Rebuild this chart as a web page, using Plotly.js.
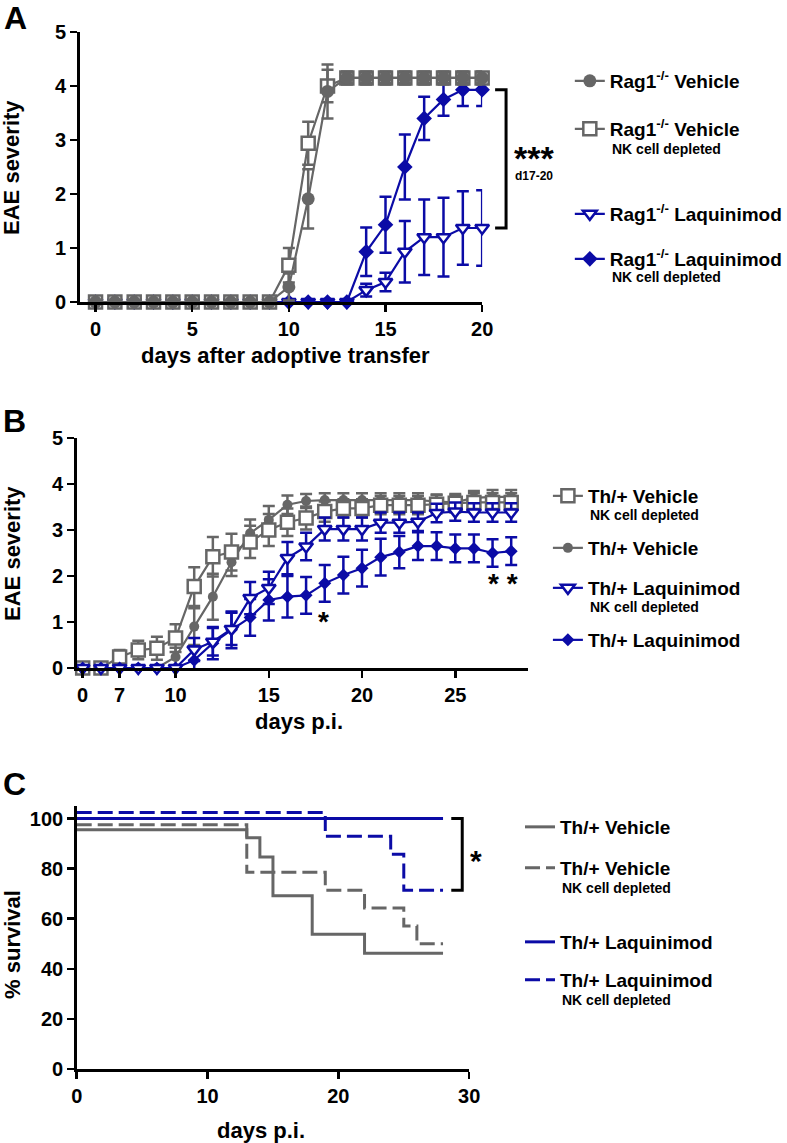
<!DOCTYPE html>
<html>
<head>
<meta charset="utf-8">
<script src="https://cdn.plot.ly/plotly-3.0.1.min.js"></script>
<style>html,body{margin:0;padding:0;background:#fff;}#chart{width:787px;height:1143px;}</style>
</head>
<body>
<div id="chart"></div>
<script>
// ---------- Panel A data: Rag1-/- adoptive transfer ----------
const daysA = [0,1,2,3,4,5,6,7,8,9,10,11,12,13,14,15,16,17,18,19,20];
const ragVehicle      = [0,0,0,0,0,0,0,0,0,0,0.28,1.91,3.9,4.15,4.15,4.15,4.15,4.15,4.15,4.15,4.15];
const ragVehicleErr   = [0,0,0,0,0,0,0,0,0,0,0.25,0.55,0.5,0.1,0.1,0.1,0.1,0.1,0.1,0.1,0.1];
const ragVehicleNK    = [0,0,0,0,0,0,0,0,0,0,0.68,2.94,4.0,4.15,4.15,4.15,4.15,4.15,4.15,4.15,4.15];
const ragVehicleNKErr = [0,0,0,0,0,0,0,0,0,0,0.32,0.4,0.3,0.12,0.12,0.12,0.12,0.12,0.12,0.12,0.12];
const ragLaq          = [0,0,0,0,0,0,0,0,0,0,0,0,0,0,0.22,0.37,0.93,1.2,1.2,1.37,1.37];
const ragLaqErr       = [0,0,0,0,0,0,0,0,0,0,0,0,0,0,0.12,0.17,0.57,0.7,0.73,0.68,0.7];
const ragLaqNK        = [0,0,0,0,0,0,0,0,0,0,0,0,0,0,0.93,1.43,2.5,3.4,3.75,3.93,3.93];
const ragLaqNKErr     = [0,0,0,0,0,0,0,0,0,0,0,0,0,0,0.45,0.52,0.6,0.4,0.3,0.3,0.3];
const ticksA = [0,5,10,15,20];

// ---------- Panel B data: Th/+ mice ----------
const daysB = [0,6,7,8,9,10,11,12,13,14,15,16,17,18,19,20,21,22,23,24,25,26,27,28];
const thVehicleNK    = [0,0,0.24,0.39,0.43,0.65,1.77,2.42,2.52,2.74,3.0,3.17,3.26,3.4,3.47,3.47,3.54,3.54,3.54,3.56,3.58,3.6,3.6,3.6];
const thVehicleNKErr = [0,0,0.15,0.2,0.25,0.3,0.42,0.43,0.4,0.35,0.35,0.3,0.25,0.22,0.2,0.2,0.2,0.2,0.2,0.2,0.2,0.2,0.2,0.2];
const thVehicle      = [0,0,0,0,0,0.24,0.9,1.55,2.3,2.93,3.22,3.55,3.63,3.65,3.65,3.65,3.65,3.65,3.65,3.62,3.6,3.7,3.72,3.72];
const thVehicleErr   = [0,0,0,0,0,0.2,0.4,0.5,0.3,0.3,0.3,0.2,0.15,0.15,0.15,0.15,0.15,0.15,0.15,0.15,0.15,0.15,0.15,0.15];
const thLaqNK        = [0,0,0,0,0,0,0.4,0.57,0.85,1.52,1.74,2.39,2.64,3.02,3.02,3.02,3.16,3.16,3.18,3.37,3.4,3.38,3.38,3.38];
const thLaqNKErr     = [0,0,0,0,0,0,0.25,0.3,0.35,0.35,0.35,0.35,0.3,0.25,0.25,0.25,0.22,0.22,0.2,0.2,0.2,0.2,0.2,0.2];
const thLaq          = [0,0,0,0,0,0,0.17,0.54,0.83,1.1,1.48,1.55,1.58,1.84,2.02,2.17,2.41,2.52,2.65,2.65,2.6,2.6,2.5,2.54];
const thLaqErr       = [0,0,0,0,0,0,0.3,0.35,0.4,0.4,0.45,0.45,0.4,0.4,0.4,0.4,0.4,0.35,0.3,0.3,0.3,0.3,0.3,0.3];
const ticksB = [7,10,15,20,25];

// ---------- Panel C data: survival (Kaplan-Meier steps) ----------
const survVehicleDays   = [0,13,14,15,18,22,28];
const survVehicle       = [95.5,92.3,84.6,69.2,53.8,46.2,46.2];
const survVehicleNKDays = [0,13,19,22,25,26,28];
const survVehicleNK     = [97.5,78.6,71.4,64.3,57.1,50,50];
const survLaqDays       = [0,28];
const survLaq           = [100,100];
const survLaqNKDays     = [0,19,24,25,28];
const survLaqNK         = [102.4,92.9,85.7,71.4,71.4];
const ticksC = [0,10,20,30];

// ---------- styling ----------
const W = 787, H = 1143;
const X = p => p / W, Y = p => 1 - p / H;
const FONT = 'Liberation Sans, Arial, sans-serif';
const GRAY = '#666666', BLUE = '#0b0ba6';
const bold = (size) => ({family: FONT, size: size, color: '#000', weight: 700});

// open = white-filled symbol with coloured outline
function series(x, y, err, color, symbol, open, size, xa, ya, legend, name, showlegend) {
  return {
    type: 'scatter', mode: 'lines+markers', x: x, y: y, xaxis: xa, yaxis: ya,
    name: name, legend: legend, showlegend: showlegend,
    line: {color: color, width: 2.2},
    marker: {symbol: symbol, size: size, color: open ? '#ffffff' : color,
             line: {color: color, width: open ? 2.5 : 0}},
    error_y: {type: 'data', array: err, visible: true, color: color, thickness: 2.5, width: 6},
    cliponaxis: false
  };
}
function stepLine(x, y, color, dash, legend, name) {
  return {type: 'scatter', mode: 'lines', x: x, y: y, xaxis: 'x3', yaxis: 'y3',
    name: name, legend: legend, line: {color: color, width: 3, dash: dash, shape: 'hv'}, cliponaxis: false};
}
const RAG = 'Rag1<sup>-/-</sup> ';

const traces = [];
// Panel A (blue first so grey sits on top at baseline)
traces.push(series(daysA, ragLaq, ragLaqErr, BLUE, 'triangle-down', true, 12, 'x', 'y', 'legend3', RAG + 'Laquinimod', true));
traces.push(series(daysA, ragLaqNK, ragLaqNKErr, BLUE, 'diamond', false, 12, 'x', 'y', 'legend4', RAG + 'Laquinimod', true));
traces.push(series(daysA, ragVehicleNK, ragVehicleNKErr, GRAY, 'square', true, 13, 'x', 'y', 'legend2', RAG + 'Vehicle', true));
traces.push(series(daysA, ragVehicle, ragVehicleErr, GRAY, 'circle', false, 13, 'x', 'y', 'legend', RAG + 'Vehicle', true));

// Panel B: broken x axis -> day 0 on x4, later days on x2 (grey first, blue on top)
function splitB(vals, errs, color, symbol, open, size, legend, name) {
  const idx = daysB.map((d, i) => i);
  const early = idx.filter(i => daysB[i] <= 3);
  const late = idx.filter(i => daysB[i] > 3);
  const a = series(early.map(i => daysB[i]), early.map(i => vals[i]), early.map(i => errs[i]), color, symbol, open, size, 'x4', 'y2', legend, name, false);
  const b = series(late.map(i => daysB[i]), late.map(i => vals[i]), late.map(i => errs[i]), color, symbol, open, size, 'x2', 'y2', legend, name, true);
  return [a, b];
}
traces.push(...splitB(thVehicle, thVehicleErr, GRAY, 'circle', false, 10, 'legend6', 'Th/+ Vehicle'));
traces.push(...splitB(thVehicleNK, thVehicleNKErr, GRAY, 'square', true, 13, 'legend5', 'Th/+ Vehicle'));
traces.push(...splitB(thLaq, thLaqErr, BLUE, 'diamond', false, 10, 'legend8', 'Th/+ Laquinimod'));
traces.push(...splitB(thLaqNK, thLaqNKErr, BLUE, 'triangle-down', true, 12, 'legend7', 'Th/+ Laquinimod'));

// Panel C
traces.push(stepLine(survVehicleDays, survVehicle, GRAY, 'solid', 'legend9', 'Th/+ Vehicle'));
traces.push(stepLine(survVehicleNKDays, survVehicleNK, GRAY, '15px,6px', 'legend10', 'Th/+ Vehicle'));
traces.push(stepLine(survLaqDays, survLaq, BLUE, 'solid', 'legend11', 'Th/+ Laquinimod'));
traces.push(stepLine(survLaqNKDays, survLaqNK, BLUE, '15px,6px', 'legend12', 'Th/+ Laquinimod'));

const axBase = {showline: true, linecolor: '#000', linewidth: 2.5, ticks: 'outside', ticklen: 7,
  tickwidth: 2.5, tickcolor: '#000', showgrid: false, zeroline: false, tickfont: bold(20), fixedrange: true};
const ax = o => Object.assign({}, axBase, o);

function leg(left, top) {
  return {x: X(left), y: Y(top), xanchor: 'left', yanchor: 'top', bgcolor: 'rgba(0,0,0,0)',
    font: bold(19), valign: 'top', itemwidth: 30, tracegroupgap: 0};
}

const lastA = daysA.length - 1;
const lastC = survLaqNK.length - 1;
const shapes = [
  {type: 'path', xref: 'paper', yref: 'y', line: {color: '#000', width: 3},
   path: `M${X(497)},${ragLaqNK[lastA]} L${X(508)},${ragLaqNK[lastA]} L${X(508)},${ragLaq[lastA]} L${X(497)},${ragLaq[lastA]}`},
  {type: 'path', xref: 'paper', yref: 'y3', line: {color: '#000', width: 3},
   path: `M${X(453)},${survLaq[survLaq.length-1]} L${X(464)},${survLaq[survLaq.length-1]} L${X(464)},${survLaqNK[lastC]} L${X(453)},${survLaqNK[lastC]}`}
];

function txt(text, x, y, size, extra) {
  return Object.assign({text: text, xref: 'paper', yref: 'paper', x: X(x), y: Y(y), showarrow: false,
    xanchor: 'center', yanchor: 'middle', font: bold(size)}, extra || {});
}
const subNK = (x, y) => txt('NK cell depleted', x, y, 14, {xanchor: 'left'});
const annotations = [
  txt('A', 16, 18, 32), txt('B', 15, 421, 32), txt('C', 15, 784, 32),
  txt('days after adoptive transfer', 287, 355, 22),
  txt('EAE severity', 12, 167, 22, {textangle: -90}),
  txt('days p.i.', 300, 721, 22),
  txt('EAE severity', 12, 553, 22, {textangle: -90}),
  txt('days p.i.', 262, 1130, 22),
  txt('% survival', 12, 944, 22, {textangle: -90}),
  txt('***', 536, 158, 34),
  txt('d17-20', 536, 176, 12),
  txt('*', 325, 622, 28),
  txt('* *', 505, 583, 28),
  txt('*', 478, 860, 30),
  subNK(612, 149), subNK(612, 277),
  subNK(590, 515), subNK(590, 607),
  subNK(562, 888), subNK(562, 1000)
];

const layout = {
  width: W, height: H, margin: {l: 0, r: 0, t: 0, b: 0},
  paper_bgcolor: '#fff', plot_bgcolor: 'rgba(0,0,0,0)',
  font: {family: FONT, color: '#000'},
  xaxis: ax({domain: [X(80), X(484)], range: [-0.82, 20], tickvals: ticksA, anchor: 'y'}),
  yaxis: ax({domain: [Y(302), Y(32)], range: [0, 5], dtick: 1, anchor: 'x'}),
  xaxis2: ax({domain: [X(92), X(530)], range: [5.5, 28.9], tickvals: ticksB, anchor: 'y2'}),
  xaxis4: ax({domain: [X(77), X(92)], range: [-0.4, 0.6], tickvals: [0], anchor: 'y2'}),
  yaxis2: ax({domain: [Y(668), Y(438)], range: [0, 5], dtick: 1, anchor: 'x4'}),
  xaxis3: ax({domain: [X(77), X(471)], range: [0, 30], tickvals: ticksC, anchor: 'y3'}),
  yaxis3: ax({domain: [Y(1069), Y(806)], range: [0, 105], tickvals: [0,20,40,60,80,100], anchor: 'x3'}),
  legend: leg(572, 62), legend2: leg(572, 110), legend3: leg(572, 195), legend4: leg(572, 240),
  legend5: leg(550, 477), legend6: leg(550, 529), legend7: leg(550, 569), legend8: leg(550, 621),
  legend9: leg(522, 808), legend10: leg(522, 849), legend11: leg(522, 923), legend12: leg(522, 961),
  shapes: shapes, annotations: annotations, showlegend: true
};

Plotly.newPlot('chart', traces, layout, {staticPlot: true, displayModeBar: false});
</script>
</body>
</html>
